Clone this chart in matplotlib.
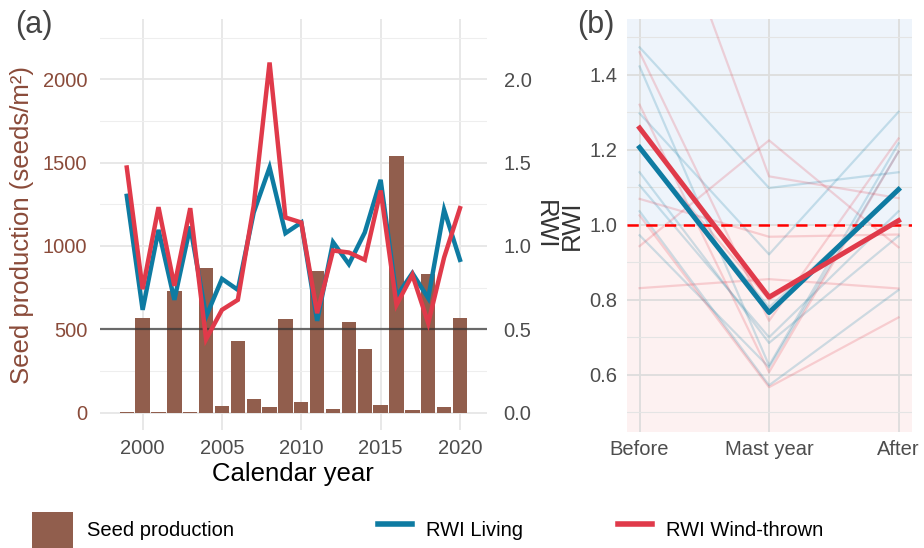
import numpy as np
import matplotlib.pyplot as plt
from matplotlib.patches import Patch
from matplotlib.lines import Line2D
from matplotlib.ticker import MultipleLocator

plt.rcParams['font.family'] = ['Liberation Sans', 'DejaVu Sans']

# (a) seed production and ring-width index per calendar year
years = np.arange(1999, 2021)
seeds = [5, 570, 2, 732, 3, 868, 38, 428, 80, 36, 562, 62,
         852, 20, 544, 380, 48, 1540, 14, 832, 32, 566]
rwi_living = [1.30, 0.616, 1.096, 0.676, 1.116, 0.576, 0.802, 0.736, 1.20, 1.47, 1.076,
              1.14, 0.55, 1.022, 0.89, 1.08, 1.396, 0.696, 0.836, 0.686, 1.216, 0.916]
rwi_wind = [1.47, 0.74, 1.232, 0.76, 1.226, 0.44, 0.616, 0.676, 1.24, 2.10, 1.17,
            1.14, 0.596, 0.972, 0.96, 0.916, 1.332, 0.646, 0.826, 0.536, 0.93, 1.226]

# (b) RWI around mast years: single series and group means
phases = ['Before', 'Mast year', 'After']
living_series = [
    [1.473, 1.098, 1.140],
    [1.422, 0.625, 1.217],
    [1.297, 0.921, 1.301],
    [1.140, 0.685, 0.970],
    [1.105, 0.700, 1.036],
    [1.036, 0.572, 0.826],
    [0.972, 0.620, 1.195],
    [1.200, 0.780, 1.090],
]
wind_series = [
    [2.066, 1.129, 1.071],
    [1.460, 0.744, 1.230],
    [1.320, 0.607, 1.195],
    [0.943, 1.225, 0.940],
    [1.069, 0.968, 0.974],
    [1.025, 0.567, 0.753],
    [0.831, 0.855, 0.830],
    [1.204, 0.800, 1.010],
]
living_mean = [1.206, 0.766, 1.094]
wind_mean = [1.258, 0.807, 1.011]

BLUE = '#0E7BA2'
RED = '#E03A4A'
BROWN = '#915E4D'
LABEL_BROWN = '#8A4B3A'
GREY_TXT = '#4d4d4d'

fig = plt.figure(figsize=(9.24, 5.48), dpi=100)

# ---- panel (a) ----
ax = fig.add_axes([0.108, 0.215, 0.419, 0.75])
ax.bar(years, seeds, width=0.9, color=BROWN, zorder=2)
ax.axhline(500, color='#333333', alpha=0.7, lw=1.6, zorder=3)
ax.set_xlim(1997.3, 2021.7)
ax.set_ylim(-106, 2360)
ax.set_xticks([2000, 2005, 2010, 2015, 2020])
ax.set_yticks([0, 500, 1000, 1500, 2000])
ax.yaxis.set_minor_locator(MultipleLocator(250))
ax.set_axisbelow(True)
ax.grid(which='major', color='#e6e6e6', lw=1.3)
ax.grid(which='minor', axis='y', color='#eeeeee', lw=0.8)
ax.tick_params(which='both', length=0)
ax.tick_params(axis='x', labelsize=14.5, labelcolor=GREY_TXT, pad=6)
ax.tick_params(axis='y', labelsize=14.5, labelcolor=LABEL_BROWN, pad=9)
ax.set_ylabel('Seed production (seeds/m²)', fontsize=18.5, color=LABEL_BROWN, labelpad=6)
ax.set_xlabel('Calendar year', fontsize=18.5, color='black', labelpad=3)
for s in ax.spines.values():
    s.set_visible(False)

ax2 = ax.twinx()
ax2.plot(years, rwi_living, color=BLUE, lw=3.2, solid_joinstyle='miter', zorder=4)
ax2.plot(years, rwi_wind, color=RED, lw=3.2, solid_joinstyle='miter', zorder=5)
ax2.set_ylim(-0.106, 2.36)
ax2.set_yticks([0.0, 0.5, 1.0, 1.5, 2.0])
ax2.set_yticklabels(['0.0', '0.5', '1.0', '1.5', '2.0'])
ax2.tick_params(length=0, labelsize=14.5, labelcolor=GREY_TXT, pad=12)
ax2.set_ylabel('RWI', fontsize=18.5, color='#333333', rotation=270, labelpad=18)
for s in ax2.spines.values():
    s.set_visible(False)

fig.text(0.016, 0.955, '(a)', fontsize=22, color='#444444', va='center')

# ---- panel (b) ----
bx = fig.add_axes([0.6786, 0.212, 0.3084, 0.753])
xpos = np.arange(len(phases))
bx.axhspan(1.0, 2.0, color='#eef4fb', zorder=0)
bx.axhspan(0.0, 1.0, color='#fdf1f1', zorder=0)
for vals in living_series:
    bx.plot(xpos, vals, color=BLUE, alpha=0.2, lw=1.6, zorder=2)
for vals in wind_series:
    bx.plot(xpos, vals, color=RED, alpha=0.2, lw=1.6, zorder=2)
bx.axhline(1.0, color='#ff0000', lw=1.8, ls=(0, (4.5, 3)), zorder=3)
bx.plot(xpos, living_mean, color=BLUE, lw=3.6, zorder=4)
bx.plot(xpos, wind_mean, color=RED, lw=3.6, zorder=5)
bx.set_xlim(-0.097, 2.104)
bx.set_ylim(0.448, 1.548)
bx.set_xticks(xpos)
bx.set_xticklabels(phases)
bx.set_yticks([0.6, 0.8, 1.0, 1.2, 1.4])
bx.yaxis.set_minor_locator(MultipleLocator(0.1))
bx.set_axisbelow(True)
bx.grid(which='major', color='#dddddd', lw=1.3)
bx.grid(which='minor', axis='y', color='#e4e4e4', lw=0.8)
bx.tick_params(which='both', length=0)
bx.tick_params(labelsize=14.5, labelcolor=GREY_TXT)
bx.tick_params(axis='y', pad=7)
bx.tick_params(axis='x', pad=6)
bx.set_ylabel('RWI', fontsize=18.5, color='#333333', labelpad=4)
for s in bx.spines.values():
    s.set_visible(False)

fig.text(0.625, 0.955, '(b)', fontsize=22, color='#444444', va='center')

# ---- shared legend along the bottom ----
legend_items = [
    (Patch(facecolor=BROWN, edgecolor='none'), 'Seed production', 0.035),
    (Line2D([], [], color=BLUE, lw=4), 'RWI Living', 0.409),
    (Line2D([], [], color=RED, lw=4), 'RWI Wind-thrown', 0.669),
]
for handle, label, x0 in legend_items:
    fig.legend([handle], [label], loc='center left', bbox_to_anchor=(x0, 0.033),
               frameon=False, fontsize=14.5, borderpad=0, borderaxespad=0,
               handlelength=2.0 if isinstance(handle, Patch) else 1.7,
               handleheight=2.4, handletextpad=0.7)

fig.savefig('out.png', dpi=100)
